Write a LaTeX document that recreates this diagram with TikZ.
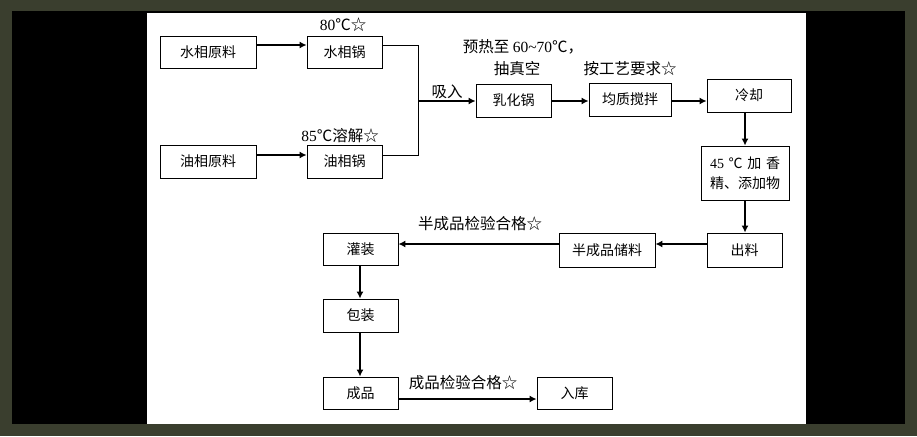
\documentclass[tikz,border=0pt]{standalone}
\usepackage{fontspec}
\setmainfont{Liberation Serif}
\newfontfamily\cjk{Noto Sans CJK SC}
\usetikzlibrary{arrows.meta}
\definecolor{edgegrid}{RGB}{58,62,46}
\newcommand\mybox[6]{\node[box,minimum width={(#4-#2)*1pt},minimum height={(#5-#3)*1pt}] (#1) at ({(#2+#4)/2},{(#3+#5)/2}) {#6};}
\begin{document}
\begin{tikzpicture}[x=1pt,y=-1pt,
  box/.style={draw,line width=0.8pt,inner sep=0pt,align=center,font=\cjk\fontsize{14}{20}\selectfont},
  lbl/.style={inner sep=0pt,font=\cjk\fontsize{15.5}{17}\selectfont},
  arr/.style={line width=1.4pt,-{Latex[length=7pt,width=7pt]}},
  ln/.style={line width=0.8pt}]
\useasboundingbox (0,0) rectangle (917,436);
\fill[edgegrid] (0,0) rectangle (917,436);
\fill[black] (12,11) rectangle (905,424);
\fill[white] (147,13) rectangle (806,424);

\mybox{sy}{160}{36}{256}{68}{水相原料}
\mybox{syg}{307}{36}{382}{68}{水相锅}
\mybox{yy}{160}{145}{256}{178}{油相原料}
\mybox{yyg}{307}{145}{382}{178}{油相锅}
\mybox{rh}{476}{84}{551}{117}{乳化锅}
\mybox{jz}{589}{83}{671}{116}{均质搅拌}
\mybox{lq}{707}{79}{791}{112}{冷却}
\mybox{jx}{701}{146}{789}{200}{\makebox[70pt][s]{{\rmfamily 45}\hfil ℃\hfil 加\hfil 香}\\\makebox[70pt][s]{精、添\hfil 加\hfil 物}}
\mybox{cl}{707}{233}{782}{267}{出料}
\mybox{bc}{559}{233}{655}{267}{半成品储料}
\mybox{gz}{323}{233}{398}{265}{灌装}
\mybox{bz}{323}{299}{398}{332}{包装}
\mybox{cp}{323}{377}{398}{409}{成品}
\mybox{rk}{537}{377}{612}{409}{入库}

\node[lbl] (l1) at (343,25) {{\rmfamily 80}℃☆};
\node[lbl] (l2) at (340,136) {{\rmfamily 85}℃溶解☆};
\node[lbl] (l3) at (523,47) {预热至 {\rmfamily 60\textasciitilde70}℃，};
\node[lbl] (l4) at (517,69) {抽真空};
\node[lbl] (l5) at (630,69) {按工艺要求☆};
\node[lbl] (l6) at (447,92) {吸入};
\node[lbl] (l7) at (480,224) {半成品检验合格☆};
\node[lbl] (l8) at (463,383) {成品检验合格☆};

\coordinate (ya) at (0,45);
\coordinate (yb) at (0,155);
\coordinate (yc) at (0,101);
\coordinate (yd) at (0,244);
\coordinate (ye) at (0,399);
\coordinate (xa) at (745,0);
\coordinate (xb) at (360,0);
\coordinate (m1) at (418,45);
\coordinate (m2) at (418,155);
\coordinate (m3) at (418,101);

\draw[arr] (sy.east |- ya) -- (syg.west |- ya);
\draw[arr] (yy.east |- yb) -- (yyg.west |- yb);
\draw[ln] (syg.east |- ya) -- (m1) -- (m2) -- (yyg.east |- yb);
\draw[arr] (m3) -- (rh.west |- yc);
\draw[arr] (rh.east |- yc) -- (jz.west |- yc);
\draw[arr] (jz.east |- yc) -- (lq.west |- yc);
\draw[arr] (lq.south -| xa) -- (jx.north -| xa);
\draw[arr] (jx.south -| xa) -- (cl.north -| xa);
\draw[arr] (cl.west |- yd) -- (bc.east |- yd);
\draw[arr] (bc.west |- yd) -- (gz.east |- yd);
\draw[arr] (gz.south -| xb) -- (bz.north -| xb);
\draw[arr] (bz.south -| xb) -- (cp.north -| xb);
\draw[arr] (cp.east |- ye) -- (rk.west |- ye);
\end{tikzpicture}
\end{document}
